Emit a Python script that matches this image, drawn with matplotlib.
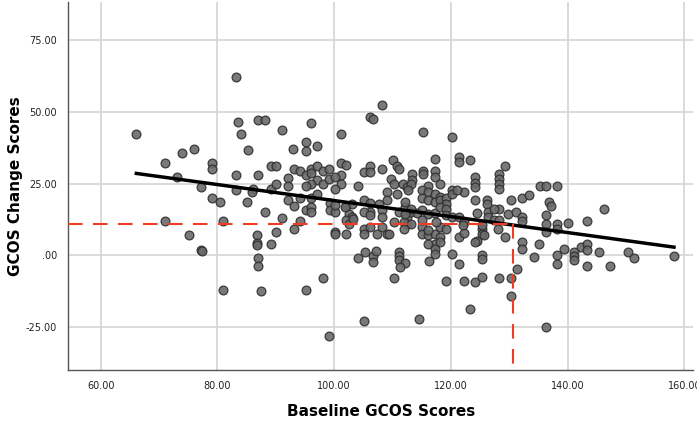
import numpy as np
import matplotlib.pyplot as plt

# Baseline GCOS scores (x) and change scores (y)
points = [
    # x < 90
    (66.1, 42.1), (83.1, 62.1), (83.6, 46.5), (86.9, 47.0), (88.2, 47.0), (84.1, 42.1),
    (85.2, 36.8), (71.0, 32.1), (74.0, 35.7), (76.0, 37.1), (79.1, 32.1), (79.1, 29.9),
    (73.1, 27.1), (77.2, 23.8), (83.1, 28.0), (86.9, 28.0), (83.1, 22.9), (86.1, 23.2),
    (86.0, 22.0), (79.1, 20.1), (80.4, 18.7), (85.1, 18.7), (71.0, 12.1), (81.0, 12.1),
    (75.1, 7.1), (86.8, 7.1), (77.2, 2.0), (77.4, 1.5), (81.0, -12.0), (86.7, 4.3),
    (86.7, 3.5), (87.0, -0.8), (87.0, -3.8), (87.4, -12.4), (89.1, 31.0), (88.1, 15.1),
    (89.1, 23.1), (89.1, 4.1),
    # 90 - 100
    (91.1, 43.7), (95.2, 39.3), (95.1, 36.4), (97.1, 38.0), (92.9, 37.1), (96.1, 46.0),
    (90.1, 31.0), (93.1, 30.1), (94.1, 29.2), (96.1, 30.1), (97.1, 31.0), (98.1, 29.2),
    (99.1, 30.1), (95.1, 28.1), (96.1, 28.5), (97.1, 26.2), (98.1, 25.0), (96.1, 25.0),
    (92.1, 27.0), (92.1, 24.1), (90.1, 25.0), (95.1, 24.1), (99.1, 26.4), (92.1, 19.2),
    (93.1, 17.1), (96.1, 20.1), (97.1, 21.2), (95.1, 15.9), (96.1, 16.8), (99.2, 18.2),
    (99.2, 15.7), (91.1, 13.1), (94.1, 12.1), (90.1, 8.1), (93.1, 9.3), (95.1, -12.0),
    (98.1, -7.9), (99.1, -27.9), (94.1, 19.8), (96.1, 15.1),
    # 100 - 110
    (101.1, 42.1), (106.1, 48.1), (106.7, 47.4), (108.2, 52.1), (101.1, 32.0), (102.1, 31.6),
    (101.1, 28.1), (100.1, 27.3), (105.1, 29.0), (106.1, 31.0), (106.1, 29.0), (108.1, 30.1),
    (101.1, 25.0), (100.1, 23.1), (104.0, 24.1), (109.1, 22.1), (102.1, 17.1), (103.1, 18.0),
    (102.6, 14.5), (103.1, 13.4), (105.1, 19.2), (106.1, 18.2), (106.1, 15.1), (105.1, 15.1),
    (107.6, 17.8), (108.2, 15.9), (108.2, 13.4), (100.1, 15.1), (102.1, 12.2), (102.6, 11.0),
    (105.1, 9.3), (106.1, 9.9), (108.2, 9.9), (100.1, 8.1), (100.1, 7.3), (102.1, 7.3),
    (105.1, 7.3), (107.3, 7.3), (109.1, 7.3), (105.2, 1.2), (104.1, -0.8), (106.7, -0.3),
    (106.7, -2.3), (107.1, 1.7), (105.1, -22.9), (109.7, 26.7), (109.1, 19.2), (106.2, 13.9),
    (101.9, 16.8), (100.2, 17.4), (103.2, 12.8), (109.4, 7.6),
    # 110 - 120
    (110.1, 33.1), (110.8, 31.0), (111.1, 29.9), (110.2, 25.0), (110.7, 21.5), (111.8, 25.0),
    (112.5, 23.8), (111.1, 15.1), (112.2, 16.8), (112.5, 13.4), (112.5, 11.0), (111.1, 1.2),
    (111.1, -0.3), (111.1, -1.5), (112.1, -2.7), (111.2, -4.1), (110.2, -7.9), (115.2, 43.0),
    (117.2, 33.4), (115.2, 29.4), (115.2, 28.2), (117.2, 29.4), (117.2, 27.3), (113.3, 28.2),
    (113.3, 26.2), (113.1, 25.0), (112.6, 22.9), (116.1, 24.1), (115.1, 22.9), (116.1, 22.0),
    (118.2, 25.0), (117.2, 21.3), (118.2, 20.3), (115.1, 19.8), (116.1, 19.4), (117.2, 18.6),
    (118.2, 19.4), (119.1, 20.1), (119.1, 18.0), (113.1, 15.1), (114.1, 14.7), (115.1, 15.7),
    (116.0, 14.5), (117.2, 14.7), (118.2, 16.8), (119.1, 16.3), (119.1, 13.9), (111.9, 11.6),
    (113.1, 11.0), (111.9, 9.3), (115.1, 9.9), (115.1, 7.6), (116.0, 7.0), (117.2, 7.6),
    (118.2, 9.9), (119.1, 9.3), (117.2, 4.1), (118.2, 6.4), (118.2, 4.6), (116.1, 4.1),
    (117.2, 2.3), (117.2, 0.6), (116.2, -2.0), (119.2, -9.0), (114.5, -22.1), (110.2, 11.6),
    (112.2, 18.6), (113.1, 16.3), (112.2, 14.5), (115.1, 12.2), (116.0, 8.7), (117.4, 11.6),
    # 120 - 130
    (120.1, 41.0), (121.3, 34.3), (121.3, 32.3), (123.2, 33.1), (129.3, 31.0), (124.1, 27.3),
    (124.1, 25.3), (124.1, 23.8), (128.2, 28.2), (128.2, 26.5), (128.2, 24.8), (128.2, 23.0),
    (120.2, 22.9), (120.2, 21.3), (122.2, 22.1), (121.0, 22.7), (124.2, 19.2), (126.2, 19.2),
    (126.1, 18.0), (120.2, 13.4), (121.3, 13.4), (122.2, 11.6), (124.4, 14.7), (126.3, 15.1),
    (126.3, 13.4), (127.4, 12.4), (128.2, 16.3), (127.4, 16.3), (128.2, 12.2), (129.7, 14.5),
    (120.2, 0.6), (121.3, 6.4), (122.2, 7.8), (125.3, 9.3), (125.3, 7.3), (124.4, 5.2),
    (125.7, 7.0), (125.3, 0.0), (125.3, -1.2), (129.3, 6.4), (121.3, -2.9), (122.2, -9.0),
    (124.2, -9.1), (125.4, -7.3), (128.2, -7.9), (123.2, -18.6), (122.1, 10.5), (125.4, 10.5),
    (128.1, 9.3), (124.2, 4.6),
    # 130 +
    (130.2, 19.4), (132.2, 20.1), (133.3, 20.9), (131.2, 15.1), (132.2, 13.4), (132.2, 12.0),
    (132.2, 4.6), (132.2, 2.3), (135.1, 4.1), (134.2, -0.6), (130.2, -7.9), (131.3, -4.7),
    (130.2, -13.9), (135.2, 24.1), (136.2, 24.1), (138.2, 24.1), (136.8, 18.6), (137.1, 17.1),
    (136.2, 13.9), (136.2, 11.0), (138.2, 11.0), (138.2, 9.3), (138.2, 0.0), (138.2, -2.9),
    (136.2, -25.0), (146.2, 16.0), (140.1, 11.3), (143.3, 12.1), (136.2, 8.1), (139.3, 2.1),
    (141.1, 1.2), (141.1, -0.3), (141.1, -1.7), (142.3, 2.9), (143.3, 4.1), (143.3, 2.0),
    (143.3, -3.8), (145.3, 1.2), (147.3, -3.8), (150.3, 1.2), (151.3, -0.9), (158.2, -0.1),
]
baseline = np.array([p[0] for p in points])
change = np.array([p[1] for p in points])

# fit line end points and reference lines
fit_x = [66.1, 158.2]
fit_y = [28.5, 2.9]
ref_x = 130.6
ref_y = 11.0

x_ticks = [60, 80, 100, 120, 140, 160]
x_labels = ["60.00", "80.00", "100.00", "120.00", "140.00", "160.00"]
y_ticks = [-25, 0, 25, 50, 75]
y_labels = ["-25.00", ".00", "25.00", "50.00", "75.00"]

fig = plt.figure(figsize=(6.97, 4.22), dpi=100)
ax = fig.add_axes([0.0976, 0.123, 0.897, 0.872])
ax.set_xlim(54.4, 161.5)
ax.set_ylim(-39.8, 88.0)

ax.grid(True, color='#d4d4d4', linewidth=1.2)
ax.set_axisbelow(True)

ax.scatter(baseline, change, s=40, facecolor='#6a6a6a', edgecolor='#2e2e2e',
           linewidth=0.9, alpha=0.9, zorder=3)
ax.plot(fit_x, fit_y, color='black', linewidth=2.5, zorder=4)

# red dashed reference lines
ax.plot([54.4, ref_x], [ref_y, ref_y], color='#f03c22', linewidth=1.5,
        dashes=(7, 5), zorder=5)
ax.plot([ref_x, ref_x], [ref_y, -39.8], color='#f03c22', linewidth=1.5,
        dashes=(7, 5), zorder=5)

ax.set_xticks(x_ticks)
ax.set_xticklabels(x_labels)
ax.set_yticks(y_ticks)
ax.set_yticklabels(y_labels)
ax.tick_params(length=0, labelsize=7, colors='#222222', pad=8)

for s in ['top', 'right']:
    ax.spines[s].set_visible(False)
for s in ['left', 'bottom']:
    ax.spines[s].set_color('#555555')
    ax.spines[s].set_linewidth(1.0)

ax.set_xlabel("Baseline GCOS Scores", fontsize=11, fontweight='bold', labelpad=9)
ax.set_ylabel("GCOS Change Scores", fontsize=11, fontweight='bold', va='center')
ax.yaxis.set_label_coords(-0.084, 0.5)

fig.savefig('out.png', dpi=100)
